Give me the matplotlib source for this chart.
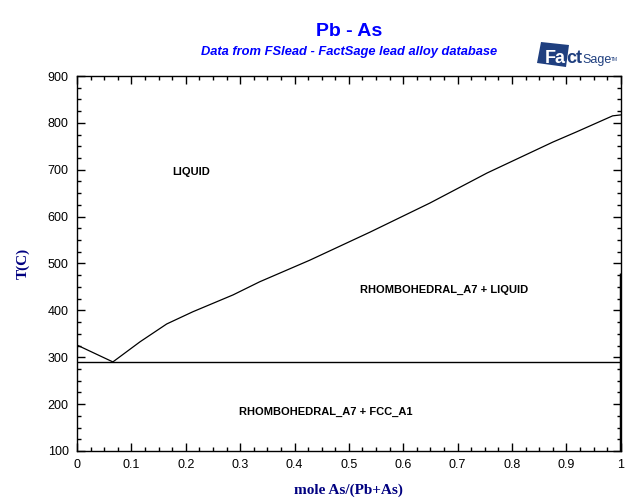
import matplotlib
matplotlib.use('Agg')
import matplotlib.pyplot as plt
from matplotlib.patches import Polygon
from matplotlib.ticker import MultipleLocator, FuncFormatter

# liquidus
liq_x = [0.0, 0.066, 0.116, 0.165, 0.213, 0.287, 0.336, 0.428, 0.539, 0.649, 0.754, 0.875, 0.919, 0.985, 1.0]
liq_t = [326, 290, 333, 371, 397, 433, 461, 507, 567, 629, 693, 759, 781, 815, 817]
eutectic_t = 290
as_side_x = [1.0, 1.0]
as_side_t = [100, 480]

labels = ["LIQUID", "RHOMBOHEDRAL_A7 + LIQUID", "RHOMBOHEDRAL_A7 + FCC_A1"]
label_x = [0.21, 0.675, 0.458]
label_t = [695, 443, 183]

plt.rcParams['font.family'] = ['Liberation Sans', 'DejaVu Sans']

fig = plt.figure(figsize=(6.4, 5.04), dpi=100)
ax = fig.add_axes([0.1203, 0.1052, 0.8497, 0.7440])

ax.plot(liq_x, liq_t, color='black', lw=0.9)
ax.plot([0, 1], [eutectic_t, eutectic_t], color='black', lw=1.0)
ax.plot(as_side_x, as_side_t, color='black', lw=2.5, solid_capstyle='butt')

for s, x, t in zip(labels, label_x, label_t):
    ax.text(x, t, s, ha='center', va='center', fontsize=8, fontweight='bold')

ax.set_xlim(0, 1)
ax.set_ylim(100, 900)
ax.xaxis.set_major_locator(MultipleLocator(0.1))
ax.xaxis.set_minor_locator(MultipleLocator(0.025))
ax.yaxis.set_major_locator(MultipleLocator(100))
ax.yaxis.set_minor_locator(MultipleLocator(25))
ax.xaxis.set_major_formatter(FuncFormatter(lambda v, p: '%g' % round(v, 2)))
ax.tick_params(which='both', direction='in', top=True, right=True, labelsize=9, pad=6)
ax.tick_params(which='major', length=6, width=1)
ax.tick_params(which='minor', length=3, width=1)
for sp in ax.spines.values():
    sp.set_linewidth(1.0)

ax.set_xlabel('mole As/(Pb+As)', family='Liberation Serif', fontweight='bold', color='#000080', fontsize=11, labelpad=9)
ax.set_ylabel('T(C)', family='Liberation Serif', fontweight='bold', color='#000080', fontsize=11, labelpad=13)

fig.text(349 / 640, 1 - 31 / 504, 'Pb - As', ha='center', va='center', color='#0000ff', fontsize=14, fontweight='bold')
fig.text(349 / 640, 1 - 52 / 504, 'Data from FSlead - FactSage lead alloy database', ha='center', va='center',
         color='#0000ff', fontsize=9.3, fontweight='bold', style='italic')

# FactSage logo
logo_col = '#1f3f7f'
fig.patches.append(Polygon([[541 / 640, 1 - 42 / 504], [569 / 640, 1 - 45 / 504], [566 / 640, 1 - 67 / 504], [537 / 640, 1 - 63 / 504]],
                           closed=True, transform=fig.transFigure, facecolor=logo_col, edgecolor='none', zorder=1))
fa = fig.text(545 / 640, 1 - 63 / 504, 'Fa', color='white', fontsize=13, fontweight='bold', va='baseline', ha='left', zorder=4)
ct = ax.annotate('ct', xy=(1, 0), xycoords=fa, xytext=(0, 0), textcoords='offset points', va='bottom', ha='left',
                 color=logo_col, fontsize=13, fontweight='bold', annotation_clip=False)
sage = ax.annotate('Sage', xy=(1, 0), xycoords=ct, xytext=(0, 0.5), textcoords='offset points', va='bottom', ha='left',
                   color=logo_col, fontsize=9, annotation_clip=False)
ax.annotate('TM', xy=(1, 1), xycoords=sage, xytext=(0, -2), textcoords='offset points', va='top', ha='left',
            color=logo_col, fontsize=3.5, annotation_clip=False)

fig.savefig('out.png', dpi=100)
